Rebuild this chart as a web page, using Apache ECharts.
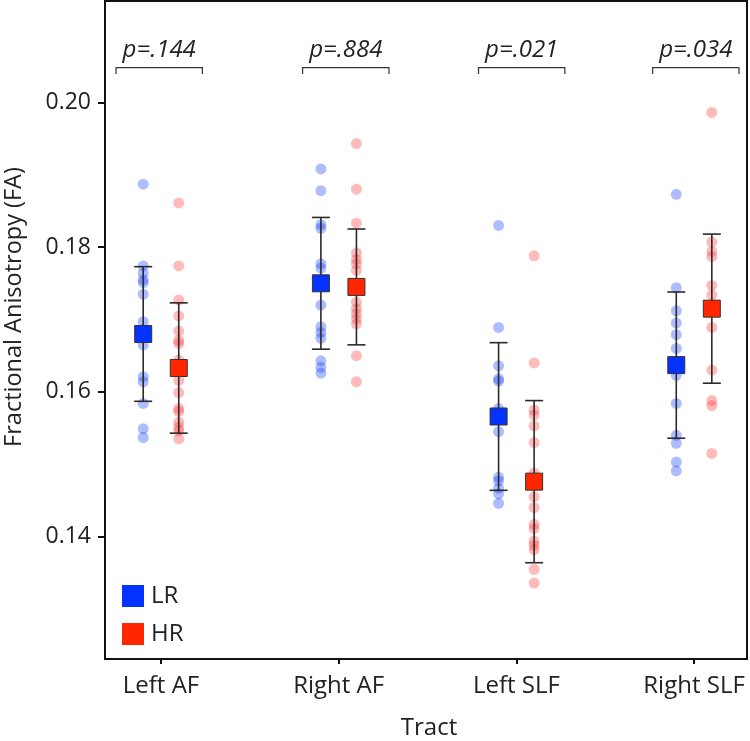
<!DOCTYPE html>
<html>
<head>
<meta charset="utf-8">
<script src="https://cdn.jsdelivr.net/npm/echarts@6/dist/echarts.min.js"></script>
<style>html,body{margin:0;padding:0;background:#fff}#c{width:750px;height:741px}</style>
</head>
<body>
<div id="c"></div>
<script>
// ---- data ----
const categories = ['Left AF', 'Right AF', 'Left SLF', 'Right SLF'];
const groupNames = ['LR', 'HR'];
const yTicks = [0.14, 0.16, 0.18, 0.20];
const pLabels = ['p=.144', 'p=.884', 'p=.021', 'p=.034'];

const lrLeftAF   = [0.1887, 0.1774, 0.1764, 0.1755, 0.1751, 0.1735, 0.1697, 0.1676, 0.1665, 0.1621, 0.1614, 0.1584, 0.1549, 0.1537];
const lrRightAF  = [0.1908, 0.1878, 0.1831, 0.1826, 0.1777, 0.1771, 0.1720, 0.1690, 0.1682, 0.1674, 0.1643, 0.1634, 0.1626];
const lrLeftSLF  = [0.1830, 0.1689, 0.1636, 0.1618, 0.1615, 0.1577, 0.1545, 0.1482, 0.1477, 0.1467, 0.1459, 0.1446];
const lrRightSLF = [0.1873, 0.1744, 0.1712, 0.1695, 0.1679, 0.1660, 0.1623, 0.1584, 0.1540, 0.1529, 0.1503, 0.1491];

const hrLeftAF   = [0.1861, 0.1774, 0.1727, 0.1705, 0.1684, 0.1671, 0.1667, 0.1644, 0.1616, 0.1599, 0.1577, 0.1573, 0.1558, 0.1551, 0.1546, 0.1535];
const hrRightAF  = [0.1943, 0.1880, 0.1833, 0.1792, 0.1783, 0.1777, 0.1768, 0.1724, 0.1715, 0.1708, 0.1701, 0.1694, 0.1650, 0.1614];
const hrLeftSLF  = [0.1788, 0.1640, 0.1575, 0.1568, 0.1553, 0.1530, 0.1488, 0.1455, 0.1440, 0.1417, 0.1411, 0.1394, 0.1388, 0.1382, 0.1355, 0.1336];
const hrRightSLF = [0.1986, 0.1807, 0.1794, 0.1787, 0.1747, 0.1734, 0.1689, 0.1630, 0.1588, 0.1581, 0.1515];

const lrMean = [0.1680, 0.1750, 0.1566, 0.1637];
const lrSD   = [0.0093, 0.0091, 0.0102, 0.0101];
const hrMean = [0.1633, 0.1745, 0.1476, 0.1715];
const hrSD   = [0.0090, 0.0080, 0.0112, 0.0103];

// ---- layout / style ----
const FONT = '"Open Sans", "Noto Sans", sans-serif';
const TXT = '#222';
const offsets = [-0.1, 0.1];
const lrColor = '#0433ff', hrColor = '#ff2600';
const lrPts = [lrLeftAF, lrRightAF, lrLeftSLF, lrRightSLF];
const hrPts = [hrLeftAF, hrRightAF, hrLeftSLF, hrRightSLF];
const bracketShift = [-0.01, 0.04, 0.03, 0.01];
const bracketHalf = 0.243;
const bracketLineY = 0.2048, bracketTickY = 0.2039, bracketTextY = 0.2072;

function pts(arrs, off) {
  const out = [];
  arrs.forEach((a, i) => a.forEach(v => out.push([i + 1 + off, v])));
  return out;
}
function means(m, sd, off) { return m.map((v, i) => [i + 1 + off, v, sd[i]]); }

const chart = echarts.init(document.getElementById('c'), null, {renderer: 'canvas'});

function errRender(params, api) {
  const x = api.value(0), m = api.value(1), s = api.value(2);
  const t = api.coord([x, m + s]), b = api.coord([x, m - s]);
  const st = {stroke: '#2a2a2a', lineWidth: 1.6};
  return {type: 'group', children: [
    {type: 'line', shape: {x1: t[0], y1: t[1], x2: b[0], y2: b[1]}, style: st},
    {type: 'line', shape: {x1: t[0] - 9, y1: t[1], x2: t[0] + 9, y2: t[1]}, style: st},
    {type: 'line', shape: {x1: b[0] - 9, y1: b[1], x2: b[0] + 9, y2: b[1]}, style: st}
  ]};
}

function bracketRender(params, api) {
  const c = api.value(0);
  const a = api.coord([c - bracketHalf, bracketTickY]);
  const a2 = api.coord([c - bracketHalf, bracketLineY]);
  const b2 = api.coord([c + bracketHalf, bracketLineY]);
  const b = api.coord([c + bracketHalf, bracketTickY]);
  const tp = api.coord([c, bracketTextY]);
  return {type: 'group', children: [
    {type: 'polyline', shape: {points: [a, a2, b2, b]}, style: {stroke: '#333', lineWidth: 1.2, fill: null}},
    {type: 'text', x: tp[0], y: tp[1], style: {text: pLabels[params.dataIndex], font: 'italic 24px ' + FONT, fill: TXT, align: 'center', verticalAlign: 'middle'}}
  ]};
}

const option = {
  backgroundColor: '#fff',
  animation: false,
  grid: {left: 105, right: 3, top: 1, bottom: 82, show: true, borderColor: '#111', borderWidth: 2, backgroundColor: 'transparent'},
  legend: {
    data: groupNames, orient: 'vertical', left: 117, top: 579,
    itemWidth: 22, itemHeight: 22, itemGap: 14, icon: 'rect',
    itemStyle: {borderWidth: 0},
    textStyle: {fontSize: 24, fontFamily: FONT, color: TXT, padding: [0, 0, 0, 2]}
  },
  xAxis: {
    type: 'value', min: 0.685, max: 4.298,
    axisLine: {show: true, lineStyle: {color: '#111', width: 2}},
    axisTick: {show: true, length: 5, customValues: [1, 2, 3, 4], lineStyle: {color: '#111', width: 2}},
    axisLabel: {customValues: [1, 2, 3, 4], formatter: v => categories[Math.round(v) - 1], fontSize: 24, fontFamily: FONT, color: TXT, margin: 15},
    splitLine: {show: false}
  },
  yAxis: {
    type: 'value', min: 0.1231, max: 0.2140,
    axisLine: {show: true, lineStyle: {color: '#111', width: 2}},
    axisTick: {show: true, length: 7, customValues: yTicks, lineStyle: {color: '#111', width: 2}},
    axisLabel: {customValues: yTicks, formatter: v => v.toFixed(2), fontSize: 23, fontFamily: FONT, color: TXT, margin: 14},
    splitLine: {show: false}
  },
  graphic: [{
    type: 'text', x: 14, y: 307, rotation: Math.PI / 2,
    style: {text: 'Fractional Anisotropy (FA)', font: '23.5px ' + FONT, fill: TXT, align: 'center', verticalAlign: 'middle'}
  }, {
    type: 'text', x: 429, y: 728,
    style: {text: 'Tract', font: '24px ' + FONT, fill: TXT, align: 'center', verticalAlign: 'middle'}
  }],
  series: [
    {name: 'LR points', type: 'scatter', data: pts(lrPts, offsets[0]), symbolSize: 11, itemStyle: {color: 'rgba(4,51,255,0.4)'}, z: 2, silent: true},
    {name: 'HR points', type: 'scatter', data: pts(hrPts, offsets[1]), symbolSize: 11, itemStyle: {color: 'rgba(255,40,40,0.4)'}, z: 2, silent: true},
    {name: 'LR err', type: 'custom', data: means(lrMean, lrSD, offsets[0]), renderItem: errRender, encode: {x: 0, y: 1}, z: 3, silent: true},
    {name: 'HR err', type: 'custom', data: means(hrMean, hrSD, offsets[1]), renderItem: errRender, encode: {x: 0, y: 1}, z: 3, silent: true},
    {name: 'LR', type: 'scatter', data: lrMean.map((v, i) => [i + 1 + offsets[0], v]), symbol: 'rect', symbolSize: 17, itemStyle: {color: lrColor, borderColor: '#333', borderWidth: 1, opacity: 1}, z: 4},
    {name: 'HR', type: 'scatter', data: hrMean.map((v, i) => [i + 1 + offsets[1], v]), symbol: 'rect', symbolSize: 17, itemStyle: {color: hrColor, borderColor: '#333', borderWidth: 1, opacity: 1}, z: 4},
    {name: 'brackets', type: 'custom', data: categories.map((c, i) => [i + 1 + bracketShift[i], bracketLineY]), renderItem: bracketRender, encode: {x: 0, y: 1}, z: 5, silent: true, clip: false}
  ]
};
chart.setOption(option);
</script>
</body>
</html>
